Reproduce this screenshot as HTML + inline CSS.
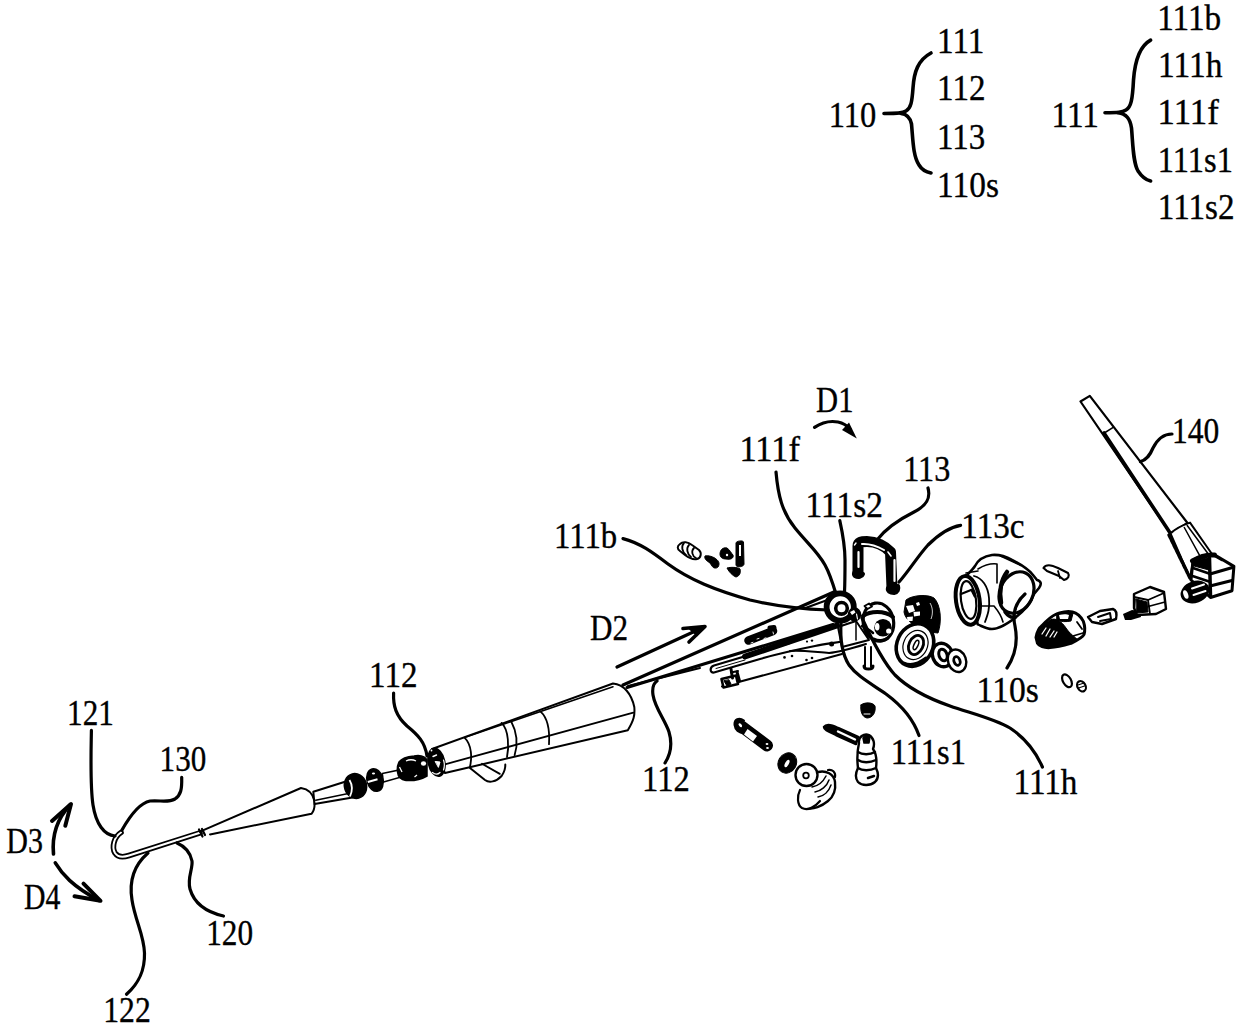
<!DOCTYPE html>
<html><head><meta charset="utf-8"><style>
html,body{margin:0;padding:0;background:#fff;}
svg{display:block;}
text{font-family:"Liberation Serif",serif;font-size:35.5px;fill:#000;stroke:#000;stroke-width:0.35px;}
</style></head><body>
<svg width="1240" height="1029" viewBox="0 0 1240 1029">
<rect width="1240" height="1029" fill="#fff"/>
<!-- ===== TIP (hook + cone) ===== -->
<g fill="none" stroke="#000" stroke-linecap="round" stroke-linejoin="round">
  <path d="M121,832.5 C114,837 111.5,847 115,853 C118,857.5 123,857.5 129,855.5 L200,832.8" stroke-width="5.6"/>
  <path d="M121,832.5 C114,837 111.5,847 115,853 C118,857.5 123,857.5 129,855.5 L200,832.8" stroke="#fff" stroke-width="2"/>
  <path d="M200,831.6 L301,788 C308,789 313,794 314.5,801 C315,807 314,811 311.5,813.8 L210,834.4" stroke-width="2" fill="#fff"/>
  <path d="M199,829.5 L202.5,836.5 M202,829 L205,835" stroke-width="2.2"/>
  <!-- rod -->
  <path d="M313.3,791.7 L349,780.5 L352.5,797.5 L314.5,804 Z" stroke-width="2" fill="#fff"/>
  <path d="M315.7,800.2 L350.8,792.9" stroke-width="1.5"/>
</g>
<!-- collar & rings -->
<g fill="#000" stroke="#000" stroke-width="1.5">
  <ellipse cx="355.5" cy="786" rx="11" ry="12.5" transform="rotate(-18 355.5 786)"/>
  <path d="M349.5,780 C352.5,785 352.5,791 350,796.5" stroke="#fff" stroke-width="1.8" fill="none"/>
  <ellipse cx="375" cy="780" rx="8" ry="11.5" transform="rotate(-15 375 780)"/>
  <ellipse cx="373.5" cy="773.5" rx="1.6" ry="1.1" fill="#fff" stroke="none"/>
  <path d="M367.8,782 L377.5,779.3" stroke="#fff" stroke-width="2" fill="none"/>
  <path d="M382.3,773.5 L399.2,770 L400.4,777.2 L383.5,782 Z" fill="#fff"/>
  <path d="M384,778 L399,774.5" stroke="#fff" stroke-width="1.5"/>
  <path d="M399,762 C402,758 408,756.5 414,756 L418,755.5 C423,756 426,758 427,760 L427,776 C422,779 414,781 406,780.5 C401,780 398,777 397.5,772 C397,768 397.5,765 399,762 Z"/>
  <ellipse cx="423.5" cy="763.5" rx="2.6" ry="2.2" fill="#fff" stroke="none"/>
  <path d="M406,761 C409,759.5 413,759.5 416,761" stroke="#fff" stroke-width="1.3" fill="none"/>
  <path d="M399.5,767 L402,772" stroke="#fff" stroke-width="1.2" fill="none"/>
  <path d="M414.5,777 L417,775" stroke="#fff" stroke-width="1.2" fill="none"/>
</g>
<!-- ===== HANDLE ===== -->
<g fill="none" stroke="#000" stroke-linecap="round" stroke-linejoin="round" stroke-width="2">
  <path d="M432,749 L613,683.5 C624,684.5 631.5,694 634.3,707 C635,715 634,720 627.8,730.3 L445,773 Z" fill="#fff"/>
  <path d="M466,737 L613,686.7" stroke-width="1.5"/>
  <path d="M444,764.6 L633.3,712.7" stroke-width="1.8"/>
  <path d="M464.5,737.7 C472,745 472,758 470,766.5" stroke-width="1.8"/>
  <path d="M501.6,722.9 C509,730 509,748 507,757" stroke-width="1.8"/>
  <path d="M511,721 C517.4,733 517.5,746 514.6,755.3" stroke-width="1.8"/>
  <path d="M540.6,711.7 C549.8,720 549.5,736 549,744.2" stroke-width="1.8"/>
  <path d="M470,768 L485,780 C489,783 496,782 501.6,776 C505,771 505.5,768 505.3,764.6" stroke-width="2"/>
  <path d="M482,763.7 L499.8,773.9" stroke-width="1.8"/>
  <!-- end ring -->
  <ellipse cx="436.5" cy="762.3" rx="8" ry="14" transform="rotate(-12 436.5 762.3)" stroke-width="2" fill="#000"/>
  <path d="M433,756.5 L436.5,755" stroke="#fff" stroke-width="1.4"/>
  <path d="M435.5,761.5 L440,762 L438.5,767 Z" fill="#fff" stroke="#fff" stroke-width="1"/>
  <path d="M432.5,772.5 C435,774.5 438,774.5 440,772.5" stroke="#fff" stroke-width="1.2"/>
  <path d="M443.5,760 C444.5,763 444.5,767 443.5,770" stroke="#fff" stroke-width="1.2"/>
  <circle cx="431.5" cy="750.5" r="0.9" fill="#fff" stroke="none"/>
</g>

<!-- ===== WIRES 112 ===== -->
<g fill="none" stroke="#000" stroke-linecap="round" stroke-linejoin="round">
  <path d="M623,685 L835,591.5" stroke-width="3.2"/>
  <path d="M804,608.5 L826,600.5" stroke-width="2"/>
  <path d="M627,687.5 L833,624.5" stroke-width="3"/>
  <path d="M628,686 L700,668" stroke-width="2"/>
  <!-- arm top thick bar -->
  <path d="M745,656.5 L837,625.5" stroke-width="6"/>
  <!-- arm long piece -->
  <path d="M790,643 L714,665.5 C709.5,667 709.5,673 714,672.5 L760,659 C780,653 800,649 815,646 C830,643 845,642 870,636" stroke-width="2.2"/>
  <path d="M716,668.5 L745,660" stroke-width="1" />
  <path d="M790,651 C800,650 815,652 829,653 C840,652 850,649 866,644" stroke-width="2"/>
  <path d="M722,686.5 L842,654" stroke-width="2"/>
  <path d="M721.5,679 L723.5,687.5 L738,684 L736,675.5 Z" stroke-width="2.6" fill="#fff"/>
  <path d="M724,681 L727,686 L731,684 L729,680 Z" fill="#000" stroke-width="1"/>
  <path d="M731,669 L732.5,678 M737,672 L739.5,681" stroke-width="3"/>
  <path d="M731,672.5 L738,671" stroke-width="2"/>
  <!-- slot piece -->
  <path d="M748.5,640.5 L773,631" stroke-width="8.5"/>
  <path d="M770,628 L774,627.5" stroke-width="5"/>
  <path d="M751,643 L753,642.3 M757,639 L759,638.4 M764,638.5 L766,637.8 M773,632 L773.5,634" stroke="#fff" stroke-width="0.9"/>
</g>
<g fill="#000">
  <circle cx="784.5" cy="657.4" r="1.3"/><circle cx="792" cy="656" r="1.3"/>
  <circle cx="806.5" cy="660" r="1.3"/><circle cx="812" cy="658" r="1.3"/>
  <circle cx="812" cy="640.6" r="1.2"/><circle cx="807" cy="641.6" r="1.1"/>
  <circle cx="831.6" cy="644" r="2.5"/>
</g>
<!-- ===== HUB ===== -->
<g fill="none" stroke="#000" stroke-linecap="round" stroke-linejoin="round">
  <!-- arm block under hub -->
  <path d="M838,627 L856,621 L869,640 L842,647 Z" stroke-width="2" fill="#fff"/>
  <path d="M856,622 L856,640" stroke-width="1.5"/>
  <!-- pulley -->
  <circle cx="840.2" cy="607" r="13.6" stroke-width="5.8" fill="#fff"/>
  <circle cx="841.5" cy="608.3" r="5.8" stroke-width="3.6"/>
  <!-- small wheel -->
  <ellipse cx="854.5" cy="614.5" rx="6" ry="6.5" stroke-width="1.5" fill="#000"/>
  <path d="M850,612 L854,610 L855.5,612.5 L852,615 Z" fill="#fff" stroke="none"/>
  <path d="M856.5,614 L857.5,619" stroke="#fff" stroke-width="1.2"/>
  <!-- plate disc -->
  <ellipse cx="878.4" cy="622.1" rx="15.2" ry="19.2" transform="rotate(-10 878.4 622.1)" stroke-width="3.2" fill="#fff"/>
  <path d="M863,616 C870,611 884,610 893,617" stroke-width="4"/>
  <path d="M862,626 C866,628 870,630 873,633" stroke-width="2.5"/>
  <circle cx="883" cy="627.8" r="8.8" fill="#000" stroke="none"/>
  <ellipse cx="877.2" cy="626.8" rx="2.3" ry="3.8" fill="#fff" stroke="none"/>
  <circle cx="888.7" cy="631" r="2.6" fill="#fff" stroke="none"/>
  <path d="M864.5,606 L869,603.5 L872,606.5 L867.5,609 Z" fill="#fff" stroke-width="1.8"/>
  <path d="M874,639 C878,641 884,641 888,638" stroke-width="3"/>
  <!-- pin down -->
  <path d="M865,647 L865,667 M871,647 L871,667" stroke-width="2"/>
  <path d="M864,666 C864,670 873,670 873,666" stroke-width="3"/>
</g>
<!-- gear (black) -->
<g fill="#000" stroke="#000" stroke-width="1">
  <path d="M906,600 C912,595 928,594 934,598 C941,605 942,622 938,633 L920,631 C914,624 905,620 904,612 Z"/>
  <path d="M906,606 L913,605 L915,611 L909,613 Z M913.5,612 L920,611.5 L920,615.5 L914,616.5 Z M907,617 L913,616.5 L912.5,621 L907.5,621 Z M916,603 L919,602 L920,605 L917,606 Z" fill="#fff" stroke="none"/>
  <path d="M930,603 C933,608 933,614 931,619" stroke="#fff" stroke-width="0.8" fill="none"/>
</g>
<!-- disk with spiral -->
<g fill="none" stroke="#000" stroke-linecap="round">
  <ellipse cx="915" cy="645" rx="18" ry="22" transform="rotate(25 915 645)" stroke-width="3.6" fill="#fff"/>
  <ellipse cx="915.5" cy="645" rx="12" ry="15" transform="rotate(25 915.5 645)" stroke-width="1.2"/>
  <ellipse cx="916" cy="645" rx="7" ry="10" transform="rotate(25 916 645)" stroke-width="2.8"/>
  <ellipse cx="916" cy="645" rx="2" ry="5" transform="rotate(25 916 645)" stroke-width="1.5"/>
  <path d="M904,663 C910,666 918,664 926,658" stroke-width="3"/>
  <!-- washers -->
  <ellipse cx="942.5" cy="655" rx="10" ry="12" transform="rotate(-20 942.5 655)" stroke-width="3.4" fill="#fff"/>
  <ellipse cx="943" cy="655" rx="4" ry="6" transform="rotate(-20 943 655)" stroke-width="3"/>
  <ellipse cx="957" cy="660.7" rx="9" ry="11.5" transform="rotate(-20 957 660.7)" stroke-width="2.4" fill="#fff"/>
  <ellipse cx="957" cy="661" rx="3" ry="4.5" transform="rotate(-20 957 661)" stroke-width="2.8"/>
</g>

<!-- ===== U-BRACKET 113 ===== -->
<g fill="none" stroke="#000" stroke-linecap="round" stroke-linejoin="round">
  <path d="M858,572 L858,546 C858,542 861,541.5 867,541.5 C876,541.5 885,546 890.5,552 L892,588" stroke-width="11"/>
  <path d="M857.5,570 C854,571 853,574 855,576 C858,578 862,577 863,574" stroke-width="4"/>
  <path d="M888,588 C887,591 890,593 894,593 C898,592 899,589 898,586" stroke-width="4"/>
  <path d="M858.5,552 L858.5,567" stroke="#fff" stroke-width="2.2"/>
  <path d="M862,544 C870,543.5 877,546 884,550" stroke="#fff" stroke-width="2"/>
  <path d="M854.5,545 L856,543" stroke="#fff" stroke-width="1.4"/>
  <path d="M894.5,560 L894.5,581" stroke="#fff" stroke-width="2.2"/>
  <path d="M888,552 L891,556" stroke="#fff" stroke-width="1.6"/>
</g>
<!-- ===== HOUSING 113c ===== -->
<g fill="none" stroke="#000" stroke-linecap="round" stroke-linejoin="round">
  <path d="M966.6,575.5 C970,572 973,569 975,566 C978,560 985,556 992,555 C998,554.5 1005,556 1012,560 C1020,564 1028,569 1033,575 L1037,580 C1041,581 1042,584 1039,588 L1034,594 C1031,603 1025,610 1015,618 C1008,623 1000,629 992,629 C986,629 982,626 977.7,624.4 Z" stroke-width="2.6" fill="#fff"/>
  <path d="M1000.5,556 L1021,565.5" stroke-width="1.6"/>
  <ellipse cx="1016.5" cy="592.5" rx="16.5" ry="21.5" transform="rotate(25 1016.5 592.5)" stroke-width="3.2"/>
  <path d="M1001,603 C999,592 1001,580 1007,572" stroke-width="4.5"/>
  <path d="M1005,612 C1008,616 1012,618 1015,617" stroke-width="3.5"/>
  <path d="M978,569 C983,566 990,563 997,564 L997,583" stroke-width="1.6"/>
  <path d="M974,576 C982,578 988,586 989,598 C990,608 988,614 985,622" stroke-width="1.8"/>
  <path d="M980,606 L994,606 C999,612 1002,618 1003,622" stroke-width="1.6"/>
  <ellipse cx="967.8" cy="600.4" rx="11.8" ry="24.5" transform="rotate(-8 967.8 600.4)" stroke-width="4" fill="#fff"/>
  <ellipse cx="968.5" cy="600" rx="7.5" ry="19" transform="rotate(-8 968.5 600)" stroke-width="2.2"/>
  <path d="M961,594 L971,590" stroke-width="2.2"/>
  <path d="M972,590 L975,596" stroke-width="3"/>
  <path d="M966,573 L978,571" stroke-width="1.6"/>
</g>
<!-- ===== small parts right ===== -->
<g fill="none" stroke="#000" stroke-linecap="round" stroke-linejoin="round">
  <path d="M1043.5,568 C1046,564 1052,565 1058,568 L1068,573 C1070,576 1068,579 1064,580 L1059,576 L1047,571 Z" stroke-width="2.2" fill="#fff"/>
  <path d="M1058,571 L1060,578" stroke-width="1.8"/>
</g>
<g stroke="#000" stroke-linejoin="round" stroke-linecap="round">
  <path d="M1036,637.4 C1037,632 1039,628 1041.9,625.8 C1047,620 1052,616 1056.4,614 C1060,612 1068,611 1072.5,612 C1077,613 1081,617 1083.4,621.4 C1085,626 1085,631 1084,634.5 C1083,637 1080,639 1071,643.3 C1065,645 1058,647 1050,647.6 C1044,648 1039,646 1037.5,643.3 Z" fill="#fff" stroke-width="3"/>
  <path d="M1037,640 C1037,632 1042,625 1050,620 C1056,617 1062,622 1066,628 C1070,634 1075,637 1078,640 C1070,644 1060,646.5 1050,647.5 C1043,648 1038,645 1037,640 Z" fill="#000" stroke-width="1"/>
  <path d="M1057,613.5 C1063,611.5 1070,611.8 1073,613.5 L1071,621 C1066,622 1061,622 1057,620 Z" fill="#000" stroke-width="1"/>
  <path d="M1059,615 C1063,614 1067,614 1069,615 L1068,619 L1060,619 Z" fill="#fff" stroke="none"/>
  <path d="M1042,634 L1046,628 M1046,636 L1050,629 M1050,637 L1054,631 M1054,637 L1057,632" stroke="#fff" stroke-width="1.3" fill="none"/>
  <path d="M1077,622 L1082,629 M1073,636 L1083,633" stroke-width="1.8" fill="none"/>
</g>
<g fill="none" stroke="#000" stroke-linecap="round" stroke-linejoin="round">
  <path d="M1088,617 L1100,611 L1113,609 C1116,610 1117,614 1116,619 L1102,624 L1092,622 Z" stroke-width="2.4" fill="#fff"/>
  <path d="M1098,617 L1110,613 L1111,619 L1100,621" stroke-width="2"/>
</g>
<g fill="#000">
  <path d="M1123,614 L1132,610 L1140,611 L1141,617 L1131,620 L1125,620 Z"/>
</g>
<g fill="none" stroke="#000" stroke-linecap="round" stroke-linejoin="round">
  <path d="M1134,594 L1150,587 L1164,592 L1166,609 L1156,614 L1137,615 L1134,608 Z" stroke-width="2.4" fill="#fff"/>
  <path d="M1134,597 L1148,600 L1164,593 M1148,600 L1150,614 M1150,606 L1165,602" stroke-width="1.8"/>
  <path d="M1136,599 L1147,602 L1148,612 L1137,613 Z" fill="#000" stroke-width="1"/>
  <ellipse cx="1067" cy="680.8" rx="4" ry="7" transform="rotate(-30 1067 680.8)" stroke-width="2.2"/>
  <ellipse cx="1081.5" cy="686.2" rx="4" ry="5.5" transform="rotate(-30 1081.5 686.2)" stroke-width="2.2"/>
  <path d="M1078,685 L1084,683 M1078.5,688 L1084.5,686" stroke-width="1.2"/>
</g>

<!-- ===== ROD 140 ===== -->
<g fill="none" stroke="#000" stroke-linecap="round" stroke-linejoin="round">
  <path d="M1080.5,401.5 L1089.8,395.9 L1187.5,523 L1170.5,533.5 Z" stroke-width="2.2" fill="#fff"/>
  <path d="M1104.3,433 L1112.8,427.6" stroke-width="1.5"/>
  <path d="M1104,433 L1170.5,533.5" stroke-width="3.6"/>
  <!-- collar -->
  <path d="M1170.5,533.5 C1175,529 1183,525 1190,522.6 L1212.5,554.7 L1193,562 L1190,578 Z" stroke-width="2" fill="#fff"/>
  <path d="M1169,535 L1190,578" stroke-width="3.5" stroke-dasharray="4 1.5"/>
  <path d="M1184.3,527.5 L1200.8,557.6 M1187.2,525.5 L1209.6,555.7" stroke-width="1.5"/>
  <!-- connector block -->
  <path d="M1193,560.5 C1200,556 1208,554 1214.4,554.7 L1233.9,566.4 L1232,590.7 L1210.5,597.5 L1191,580 Z" stroke-width="3" fill="#fff"/>
  <path d="M1192.5,561 C1200,556.5 1208,554.5 1214.4,555" stroke-width="5"/>
  <path d="M1209.5,558 L1210.5,596" stroke-width="3.5"/>
  <path d="M1210,574 L1232.5,567.5 M1210,586 L1232,580.5" stroke-width="3"/>
  <path d="M1193,568 L1209,573.5 M1192.5,576 L1209,581.5" stroke-width="2.6"/>
  <path d="M1194,561 L1209,557.5 L1209,570 L1194,566 Z" fill="#000" stroke-width="1"/>
  <path d="M1214,556 L1222,560.5" stroke-width="1.6"/>
  <ellipse cx="1195" cy="592" rx="13.5" ry="9.5" transform="rotate(-20 1195 592)" stroke-width="2.6" fill="#000"/>
  <path d="M1192,588.5 L1204,584.5 M1193.5,595 L1205.5,591" stroke="#fff" stroke-width="2"/>
  <ellipse cx="1185.8" cy="594.5" rx="2.3" ry="4.5" transform="rotate(-20 1185.8 594.5)" fill="#fff" stroke="none"/>
</g>
<!-- ===== lower small parts ===== -->
<g fill="#000" stroke="#000" stroke-linecap="round" stroke-linejoin="round">
  <path d="M741,726 L767,745.5" stroke-width="12" fill="none"/>
  <path d="M744,720.5 C739,717 734,719 734.5,725 C735,730 739,733 744,733" stroke-width="2" fill="#000"/>
  <ellipse cx="740.3" cy="725.2" rx="1.3" ry="2.3" transform="rotate(-40 740.3 725.2)" fill="#fff" stroke="none"/>
  <path d="M747.5,729 L757,736 L753,741.5 L744,734.5 Z" fill="#fff" stroke="none"/>
  <ellipse cx="767" cy="744" rx="1.4" ry="1.1" fill="#fff" stroke="none"/>
  <ellipse cx="767.5" cy="748" rx="1.4" ry="1.1" fill="#fff" stroke="none"/>
  <ellipse cx="787.3" cy="763" rx="9" ry="10.5" transform="rotate(30 787.3 763)"/>
  <ellipse cx="787" cy="763.5" rx="1.8" ry="4" transform="rotate(30 787 763.5)" fill="#fff" stroke="none"/>
  <path d="M861,705 C864,702 873,702 875,706 C876,712 873,718 867,718 C862,717 860,711 861,705 Z"/>
  <path d="M864,714 L870,714" stroke="#fff" stroke-width="1"/>
</g>
<g fill="none" stroke="#000" stroke-linecap="round" stroke-linejoin="round">
  <!-- knob -->
  <path d="M818,772 C826,770 834,774 835,782 C836,790 833,797 828,801 C822,806 813,810 807,808 C800,806 798,800 800,794" stroke-width="2.4" fill="#fff"/>
  <path d="M828,770 C832,769 836,772 835,777" stroke-width="2.2"/>
  <path d="M800,790 C797,796 797,805 802,808 C808,811 815,807 820,801" stroke-width="2.2" fill="#fff"/>
  <circle cx="806.5" cy="775" r="11" stroke-width="2.4" fill="#fff"/>
  <circle cx="806" cy="775.5" r="2.8" stroke-width="1.8"/>
  <path d="M812,787 C818,786 823,782 826,776 M815,792 C821,791 827,786 829,780 M818,797 C824,796 829,791 831,785" stroke-width="1.5"/>
  <!-- screw with spring -->
  <path d="M824,727 C826,724 832,725 838,728 L858,737 L856,744 L836,735 C830,732 824,730 824,727 Z" fill="#000" stroke-width="2.5"/>
  <path d="M838,731.5 L855,739.5" stroke="#fff" stroke-width="2.4"/>
  <path d="M859,743 C858,737 864,733 869,735 C874,738 875,744 873,749 C876,753 877,760 876,768 C878,772 879,778 875,782 C870,786 862,786 858,782 C855,778 856,772 858,768 C857,760 857,752 859,743 Z" stroke-width="2.4" fill="#fff"/>
  <path d="M858,752 C862,755 870,755 875,752 M858,760 C862,763 870,763 876,760 M858,768 C862,771 870,771 876,768" stroke-width="2.4"/>
  <path d="M863,738 C864,735 868,734 870,737 L869,743 L864,743 Z" fill="#000" stroke-width="1.5"/>
  <path d="M868,778 L874,776" stroke-width="2.5"/>
</g>
<!-- ===== top small parts ===== -->
<g fill="none" stroke="#000" stroke-linecap="round" stroke-linejoin="round">
  <path d="M680,544 C683,541 688,542 692,545 L699,550 C702,553 701,558 697,559 C693,560 689,558 685,555 L680,551 C677,549 677,546 680,544 Z" stroke-width="2" fill="#fff"/>
  <path d="M684,543 C681,546 682,552 686,555 M689,545 C686,548 687,554 691,557 M694,548 C691,551 692,556 696,558" stroke-width="1.8"/>
</g>
<g fill="#000" stroke="#000" stroke-linejoin="round">
  <path d="M705,556 C708,555 714,557 716,559 C719,561 720,564 718,567 C716,569 713,568 712,566 L710,563 C707,561 704,559 705,556 Z"/>
  <path d="M720,554 C720,550 723,547 727,548 C730,550 731,553 733,555 C734,558 731,560 726,559 C722,559 720,557 720,554 Z"/>
  <circle cx="727" cy="555" r="1.2" fill="#fff" stroke="none"/>
  <path d="M736,543 C736,541 743,540 743.5,542 L744,564 C744,567 736,568 736,565 Z"/>
  <path d="M739,545 L741,545 L741,556 L739,556 Z" fill="#fff" stroke="none"/>
  <path d="M727,568 C730,567 738,567 740,569 C741,572 740,576 736,577 C733,576 729,572 727,568 Z"/>
</g>

<g id="labels">
<text transform="translate(937.1,53.0) scale(0.935,1)">111</text>
<text transform="translate(937.1,100.4) scale(0.931,1)">112</text>
<text transform="translate(937.1,148.6) scale(0.928,1)">113</text>
<text transform="translate(937.1,196.6) scale(0.940,1)">110s</text>
<text transform="translate(828.7,127.0) scale(0.915,1)">110</text>
<text transform="translate(1157.2,29.9) scale(0.936,1)">111b</text>
<text transform="translate(1158.0,76.9) scale(0.942,1)">111h</text>
<text transform="translate(1157.6,124.0) scale(0.980,1)">111f</text>
<text transform="translate(1157.8,172.0) scale(0.914,1)">111s1</text>
<text transform="translate(1157.8,219.0) scale(0.933,1)">111s2</text>
<text transform="translate(1051.6,127.0) scale(0.937,1)">111</text>
<text transform="translate(816.1,412.0) scale(0.861,1)">D1</text>
<text transform="translate(739.4,461.0) scale(0.972,1)">111f</text>
<text transform="translate(903.2,480.6) scale(0.907,1)">113</text>
<text transform="translate(805.5,517.0) scale(0.942,1)">111s2</text>
<text transform="translate(1171.9,443.0) scale(0.888,1)">140</text>
<text transform="translate(961.3,538.0) scale(0.935,1)">113c</text>
<text transform="translate(554.1,548.4) scale(0.924,1)">111b</text>
<text transform="translate(590.1,640.0) scale(0.877,1)">D2</text>
<text transform="translate(369.1,687.0) scale(0.931,1)">112</text>
<text transform="translate(67.1,724.7) scale(0.878,1)">121</text>
<text transform="translate(159.6,771.2) scale(0.876,1)">130</text>
<text transform="translate(6.3,853.0) scale(0.845,1)">D3</text>
<text transform="translate(23.9,909.2) scale(0.838,1)">D4</text>
<text transform="translate(206.2,944.9) scale(0.880,1)">120</text>
<text transform="translate(103.2,1021.6) scale(0.893,1)">122</text>
<text transform="translate(642.1,791.0) scale(0.918,1)">112</text>
<text transform="translate(976.6,702.4) scale(0.946,1)">110s</text>
<text transform="translate(890.7,763.6) scale(0.916,1)">111s1</text>
<text transform="translate(1013.5,794.0) scale(0.936,1)">111h</text>
</g>
<g id="leaders" fill="none" stroke="#000" stroke-width="3.2" stroke-linecap="round" stroke-linejoin="round">

<path stroke-width="3.6" d="M931,53 C918,60 914,72 913,88 C912,102 911,108 906,111 C903,113 899,113.5 884,113.5"/>
<path stroke-width="3.6" d="M901,113.5 C906,114 910,117 911.5,124 C913,140 913,156 919,165 C922,170 926,172 931,173"/>
<path stroke-width="3.6" d="M1150.6,40.2 C1140,46 1135,60 1133.5,80 C1132.5,100 1131,107 1126,110 C1122,112.5 1118,112.8 1105,112.8"/>
<path stroke-width="3.6" d="M1118,112.8 C1126,114 1130,118 1131.5,128 C1133,145 1133,162 1138,171 C1142,177 1146,180 1150.6,181"/>
<path d="M776,472 C778,495 782,512 795,528 C808,544 818,552 825,565 C830,574 833,584 836,594"/>
<path d="M839.8,520.6 C843,535 845,548 845,560 C845,572 845,582 844.5,592"/>
<path d="M928,488 C931,499 926,506 914,512 C900,519 887,527 877,540"/>
<path d="M960.6,525.3 C950,527 938,535 928,545 C918,556 908,572 899,582"/>
<path d="M1172,434 C1163,434 1157,440 1153,448 C1150,455 1147,460 1140.4,461.6"/>
<path d="M623,538.6 C640,543 652,552 668,564 C690,580 715,590 750,600 C775,606 800,609 828,610"/>
<path d="M393.6,693 C393,706 396,716 407,726 C418,735 425,742 427,756"/>
<path d="M665,763 C672,752 672,742 669,732 C665,720 655,708 653,695 C652,688 654,683 657,681"/>
<path d="M91.4,730.4 C91,755 90,785 93,805 C96,824 104,835 115,836"/>
<path d="M181.7,777.4 C182,789 181,795 175,799 C168,803 160,800 150,801 C140,803 131,814 122,830"/>
<path d="M223.5,916 C206,912 194,903 190,889 C187,878 193,869 192,861 C190,851 184,846 177,843"/>
<path d="M126.5,994.3 C138,984 145,972 144.5,953 C144,935 135,920 132,900 C129,882 133,866 148,853"/>
<path d="M919,735.6 C914,721 905,708 886,694 C870,683 857,676 849,665 C842,654 840,640 841,623"/>
<path d="M1042.4,767 C1035,750 1025,738 1010,728 C995,719 970,713 950,706 C930,699 910,690 895,675 C884,663 872,640 862,618"/>
<path d="M1025,594 C1015,603 1012,613 1015,626 C1018,641 1015,656 1007,668"/>
<path d="M814.5,427.4 C821,423 830,420.5 838,422 C843,423 847,425.5 850,429"/>
<path d="M617,667 L703,627.5"/>
<path d="M683,628.5 L705,626.5 L689,642" stroke-width="3.6"/>
<path d="M53.5,854 C52,838 56,820 70,805" stroke-width="3.6"/>
<path d="M52,821 L71,804 L65.3,825.7" stroke-width="4"/>
<path d="M55.3,862.9 C62,874 72,886 99,900.5" stroke-width="3.6"/>
<path d="M83.5,883.7 L100.5,900.8 L74.5,896.3" stroke-width="4"/>

</g>
<g id="filled" fill="#000">

<path d="M842,430 L849,422.5 L856.8,438.5 Z"/>
<path d="M688,628.5 L706,626.3 L697,636.5 L692,632 Z"/>

</g>
</svg>
</body></html>
